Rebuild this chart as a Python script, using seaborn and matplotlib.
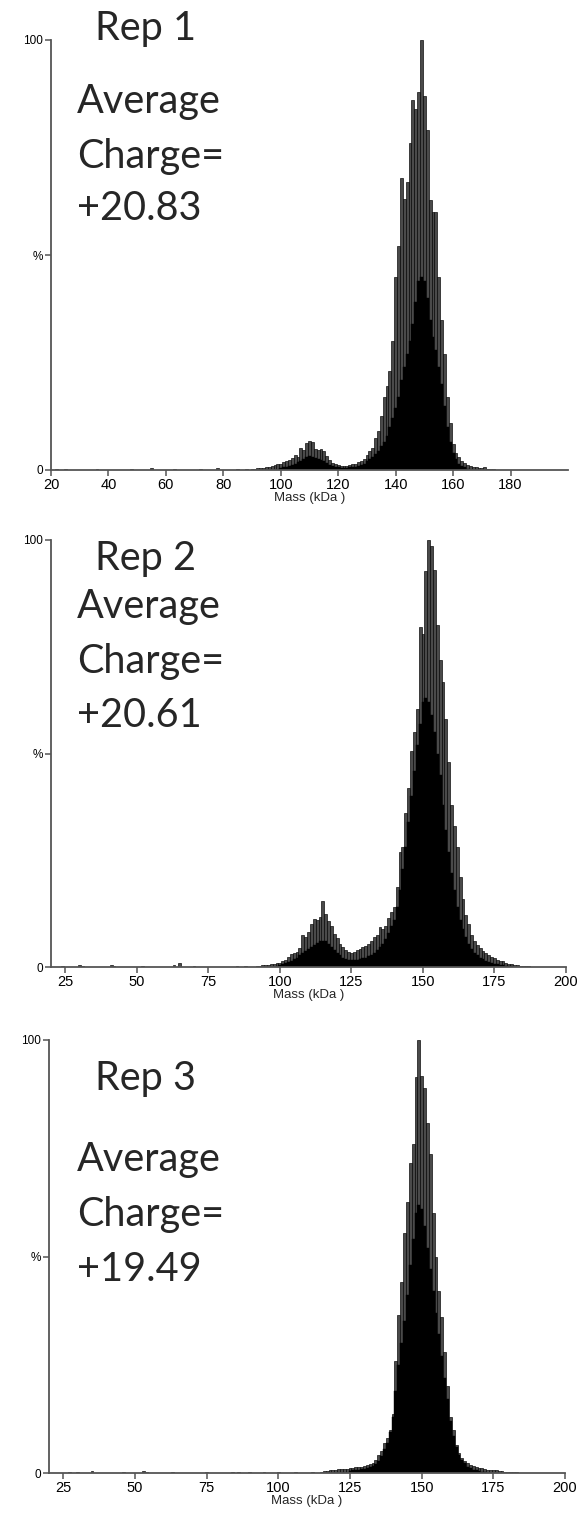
import numpy as np
import matplotlib
matplotlib.use("Agg")
import matplotlib.pyplot as plt
import seaborn as sns

sns.set_theme(style="white")
plt.rcParams['font.family'] = ['Liberation Sans Narrow', 'Liberation Sans', 'DejaVu Sans']

# ---------------- data (relative intensity, %) ----------------
rep_titles = ["Rep 1", "Rep 2", "Rep 3"]
avg_charges = ["+20.83", "+20.61", "+19.49"]
xtick_sets = [[20, 40, 60, 80, 100, 120, 140, 160, 180],
              [25, 50, 75, 100, 125, 150, 175, 200],
              [25, 50, 75, 100, 125, 150, 175, 200]]

# Rep 1
rep1_noise_mass = [22, 25, 36, 48, 55, 63, 72, 78, 85, 88]
rep1_noise_val = [0.3, 0.3, 0.2, 0.3, 0.4, 0.2, 0.2, 0.4, 0.3, 0.2]
rep1_spike_start = 90
rep1_spike = [0.3, 0.3, 0.4, 0.4, 0.5, 0.6, 0.7, 0.9, 1.1, 1.3,
              1.5, 1.8, 2.0, 2.3, 2.8, 3.5, 3.0, 5.2, 4.6, 6.2,
              6.8, 6.4, 5.0, 4.7, 5.0, 4.5, 3.2, 2.4, 1.6, 1.3,
              1.1, 0.9, 0.9, 0.9, 1.1, 1.3, 1.5, 1.8, 2.2, 2.5,
              3.5, 4.5, 5.2, 7.5, 9.0, 12.5, 17.0, 19.5, 23.0, 30.0,
              45.0, 52.0, 68.0, 63.0, 67.0, 76.0, 86.0, 84.0, 88.0, 100.0,
              87.0, 79.0, 62.7, 60.0, 60.0, 45.0, 35.0, 27.0, 17.0, 11.0,
              6.0, 4.0, 3.0, 2.2, 1.6, 1.2, 1.0, 0.8, 0.6, 0.5,
              0.5, 0.6, 0.3, 0.2, 0.2, 0.1]
rep1_base_start = 100
rep1_base = [0.5, 0.6, 0.8, 1.0, 1.2, 1.5, 1.8, 2.2, 2.6, 3.0,
             3.2, 3.0, 2.8, 2.5, 2.3, 2.0, 1.6, 1.2, 0.9, 0.7,
             0.6, 0.5, 0.5, 0.5, 0.6, 0.7, 0.8, 1.0, 1.2, 1.5,
             2.0, 2.5, 3.0, 3.8, 4.5, 5.5, 6.5, 8.0, 10.0, 12.0,
             14.5, 17.0, 21.0, 24.0, 27.0, 30.0, 34.0, 39.0, 44.0, 45.0,
             44.0, 40.0, 35.0, 31.0, 28.0, 24.0, 20.0, 15.0, 10.0, 6.5,
             4.0, 2.5, 1.5, 1.0, 0.6, 0.3]

# Rep 2
rep2_noise_mass = [24, 30, 31, 41, 42, 52, 63, 65, 70, 85, 88, 92]
rep2_noise_val = [0.3, 0.5, 0.3, 0.5, 0.3, 0.2, 0.4, 0.9, 0.2, 0.2, 0.3, 0.3]
rep2_spike_start = 93
rep2_spike = [0.3, 0.4, 0.4, 0.5, 0.6, 0.7, 0.9, 1.0, 1.3, 1.7,
              2.3, 3.0, 3.3, 3.6, 4.5, 7.4, 7.0, 8.2, 10.0, 11.3,
              11.0, 11.8, 15.5, 12.5, 10.8, 9.5, 7.8, 6.8, 5.5, 4.6,
              3.9, 3.5, 3.2, 3.6, 4.0, 4.2, 4.7, 5.0, 5.4, 6.0,
              7.0, 7.6, 9.3, 9.0, 9.7, 11.5, 12.8, 14.0, 18.7, 27.0,
              28.0, 36.0, 42.0, 50.5, 55.0, 60.5, 79.6, 78.0, 92.7, 100.0,
              98.5, 93.0, 80.0, 72.0, 66.7, 58.0, 48.0, 38.0, 33.0, 28.0,
              21.0, 16.0, 12.2, 10.0, 7.5, 6.2, 5.2, 4.4, 3.8, 3.3,
              2.9, 2.4, 2.0, 1.7, 1.5, 1.3, 1.0, 0.8, 0.6, 0.5,
              0.4, 0.3, 0.2, 0.2, 0.3, 0.1]
rep2_base_start = 100
rep2_base = [0.4, 0.6, 0.9, 1.2, 1.5, 1.8, 2.2, 2.7, 3.2, 3.8,
             4.3, 4.8, 5.2, 5.6, 6.0, 6.2, 6.0, 5.5, 4.8, 4.0,
             3.3, 2.7, 2.2, 1.9, 1.7, 1.6, 1.6, 1.7, 1.8, 2.0,
             2.2, 2.5, 2.8, 3.3, 3.9, 4.6, 5.5, 6.6, 8.0, 9.5,
             11.0, 14.0, 18.0, 23.0, 28.0, 34.0, 40.0, 46.0, 52.0, 57.0,
             62.0, 63.0, 62.0, 59.0, 55.0, 50.0, 45.0, 38.0, 32.0, 27.0,
             22.0, 18.0, 14.0, 11.0, 9.0, 7.0, 5.5, 4.3, 3.3, 2.7,
             2.2, 1.8, 1.5, 1.2, 1.0, 0.8, 0.6, 0.5, 0.4, 0.3,
             0.2, 0.2, 0.1]

# Rep 3
rep3_noise_mass = [27, 30, 35, 46, 53, 54, 63, 75, 84, 86, 90, 95, 100, 106, 112]
rep3_noise_val = [0.2, 0.3, 0.5, 0.3, 0.5, 0.3, 0.2, 0.2, 0.3, 0.2, 0.2, 0.2, 0.2, 0.2, 0.2]
rep3_spike_start = 115
rep3_spike = [0.3, 0.4, 0.5, 0.6, 0.7, 0.8, 0.9, 1.0, 0.9, 1.0,
              1.1, 1.2, 1.3, 1.4, 1.5, 1.7, 1.9, 2.1, 2.3, 3.0,
              4.2, 5.0, 6.9, 8.0, 9.9, 13.7, 25.8, 36.4, 44.0, 55.4,
              62.6, 71.7, 76.0, 91.4, 100.0, 91.8, 88.8, 80.8, 73.6, 60.0,
              50.0, 42.0, 36.0, 28.0, 20.0, 13.0, 9.9, 6.5, 4.6, 3.5,
              2.8, 2.3, 1.9, 1.6, 1.4, 1.2, 1.1, 0.9, 0.8, 0.7,
              0.6, 0.6, 0.5, 0.4, 0.3, 0.3, 0.2, 0.2, 0.2, 0.1,
              0.1, 0.1]
rep3_base_start = 125
rep3_base = [0.5, 0.6, 0.7, 0.8, 0.9, 1.0, 1.2, 1.4, 1.7, 2.0,
             2.8, 4.0, 5.5, 7.0, 9.5, 13.0, 19.0, 25.0, 30.0, 35.0,
             41.0, 48.0, 54.0, 60.0, 62.0, 61.0, 57.0, 52.0, 47.0, 42.0,
             37.0, 32.0, 27.0, 22.0, 17.0, 12.0, 8.5, 6.0, 4.2, 3.0,
             2.2, 1.5, 1.1, 0.8, 0.6, 0.4, 0.3, 0.2]

panels = [
    (rep1_noise_mass, rep1_noise_val, rep1_spike_start, rep1_spike, rep1_base_start, rep1_base),
    (rep2_noise_mass, rep2_noise_val, rep2_spike_start, rep2_spike, rep2_base_start, rep2_base),
    (rep3_noise_mass, rep3_noise_val, rep3_spike_start, rep3_spike, rep3_base_start, rep3_base),
]

# ---------------- layout ----------------
W, H = 582, 1519
fig = plt.figure(figsize=(W / 100, H / 100), dpi=100)

# axes boxes in pixels: (left, right, top(100%), bottom(0%))
boxes = [(51, 568, 40, 470), (51, 566, 540, 967), (49, 565, 1040, 1473)]
text_pos = [  # (rep_x, rep_baseline, avg_x, line baselines)
    (95, 40, 77, [113, 168, 220]),
    (95, 570, 77, [618, 673, 727]),
    (95, 1090, 77, [1171, 1226, 1281]),
]
big_font = ['Lato', 'DejaVu Sans']

axis_col = '#555555'
for i, (nm, nv, ss, sv, bs, bv) in enumerate(panels):
    l, r, t, b = boxes[i]
    ax = fig.add_axes([l / W, 1 - b / H, (r - l) / W, (b - t) / H])
    spike_mass = list(nm) + list(ss + np.arange(len(sv)))
    spike_val = list(nv) + list(sv)
    sns.histplot(x=spike_mass, weights=spike_val, discrete=True, ax=ax,
                 color='#4a4a4a', edgecolor='black', linewidth=0.45, alpha=1)
    base_mass = list(bs + np.arange(len(bv)))
    sns.histplot(x=base_mass, weights=bv, discrete=True, ax=ax,
                 color='black', edgecolor='black', linewidth=0.3, alpha=1)
    ax.set_xlim(20, 200)
    ax.set_ylim(0, 100)
    ax.set_xticks(xtick_sets[i])
    ax.set_xticklabels([str(v) for v in xtick_sets[i]], fontsize=10.5)
    ax.set_yticks([0, 50, 100])
    ax.set_yticklabels(['0', '%', '100'], fontsize=8.5)
    ax.set_xlabel('Mass (kDa )', fontsize=9.5, labelpad=0)
    ax.set_ylabel('')
    for s in ['top', 'right']:
        ax.spines[s].set_visible(False)
    for s in ['left', 'bottom']:
        ax.spines[s].set_color(axis_col)
        ax.spines[s].set_linewidth(1.3)
    ax.tick_params(axis='both', which='both', length=4, width=1.1, color=axis_col,
                   pad=1.5, labelcolor='black', bottom=True, left=True)
    ax.set_facecolor('white')

    rx, rb, ax_x, lines = text_pos[i]
    fig.text(rx / W, 1 - rb / H, rep_titles[i], fontsize=28.5, family=big_font,
             va='baseline', ha='left')
    for txt, yb in zip(["Average", "Charge=", avg_charges[i]], lines):
        fig.text(ax_x / W, 1 - yb / H, txt, fontsize=28.5, family=big_font,
                 va='baseline', ha='left')

fig.savefig('out.png', dpi=100, facecolor='white')
